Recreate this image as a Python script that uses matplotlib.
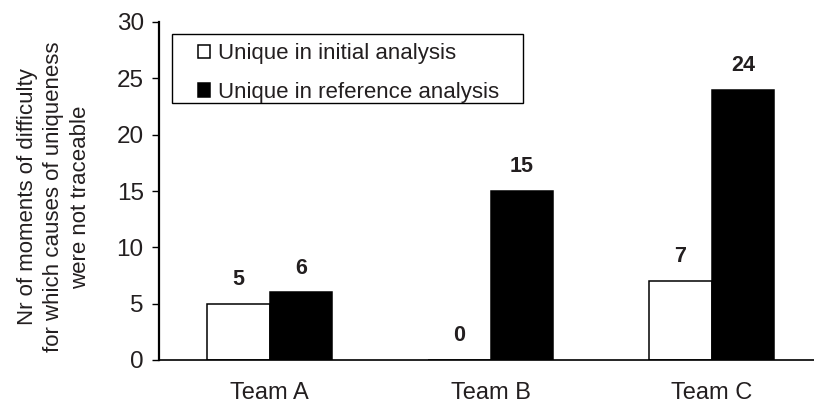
import matplotlib
matplotlib.use("Agg")
import matplotlib.pyplot as plt
from matplotlib.patches import Rectangle
import numpy as np

teams = ["Team A", "Team B", "Team C"]
initial_unique = [5, 0, 7]
reference_unique = [6, 15, 24]
series_names = ["Unique in initial analysis", "Unique in reference analysis"]
y_ticks = [0, 5, 10, 15, 20, 25, 30]

plt.rcParams["font.family"] = ["Liberation Sans", "DejaVu Sans"]
text_color = "#231f20"

fig = plt.figure(figsize=(8.14, 4.03), dpi=100)
ax = fig.add_axes([159 / 814, 43 / 403, 663 / 814, 338 / 403])

x = np.arange(len(teams))
w = 0.285
b1 = ax.bar(x - w / 2, initial_unique, w, color="white", edgecolor="black",
            linewidth=1.1, label=series_names[0])
b2 = ax.bar(x + w / 2, reference_unique, w, color="black", edgecolor="black",
            linewidth=1.1, label=series_names[1])

for bars, vals in ((b1, initial_unique), (b2, reference_unique)):
    for rect, v in zip(bars, vals):
        ax.annotate(f"{v}", (rect.get_x() + rect.get_width() / 2, v),
                    xytext=(0, 10), textcoords="offset points",
                    ha="center", va="bottom", fontsize=15.5,
                    fontweight="bold", color=text_color)

ax.set_xlim(-0.5, 2.5)
ax.set_ylim(0, 30)
ax.set_yticks(y_ticks)
ax.set_xticks(x)
ax.set_xticklabels(teams)
ax.tick_params(axis="y", direction="out", length=5, width=1, pad=6,
               labelsize=17.5, labelcolor=text_color)
ax.tick_params(axis="x", length=0, pad=15.5, labelsize=17, labelcolor=text_color)
for side in ("top", "right"):
    ax.spines[side].set_visible(False)
ax.spines["left"].set_linewidth(1.6)
ax.spines["bottom"].set_linewidth(1.2)

fig.text(54 / 814, 1 - 197 / 403,
         "Nr of moments of difficulty\nfor which causes of uniqueness\nwere not traceable",
         rotation=90, ha="center", va="center", multialignment="center",
         fontsize=16, color=text_color, linespacing=1.35)

# legend box with its own padded frame
fig.patches.append(Rectangle((172 / 814, 1 - 103 / 403), 351 / 814, 69 / 403,
                             transform=fig.transFigure, facecolor="white",
                             edgecolor="black", linewidth=1.0, zorder=5))
leg = fig.legend(handles=[b1, b2], loc="upper left",
                 bbox_to_anchor=(198 / 814, 1 - 43 / 403),
                 bbox_transform=fig.transFigure, borderaxespad=0, borderpad=0,
                 fontsize=16, handlelength=0.54, handleheight=0.54,
                 handletextpad=0.36, labelspacing=0.8, frameon=False)
leg.set_zorder(6)
for t in leg.get_texts():
    t.set_color(text_color)

fig.savefig("out.png", dpi=100)
